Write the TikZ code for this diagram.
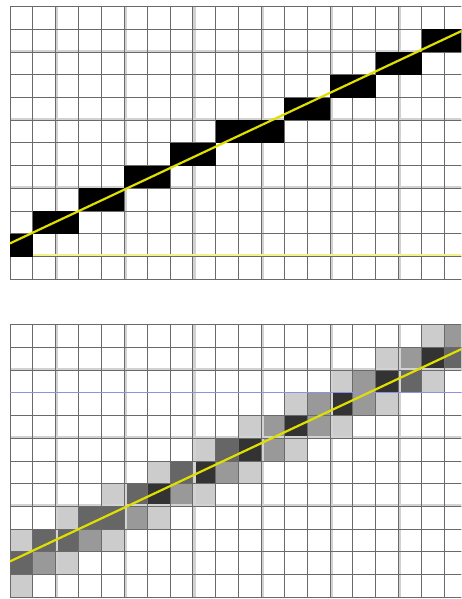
\documentclass[tikz,border=0pt]{standalone}
\definecolor{gridgray}{HTML}{6A6A6A}
\definecolor{bandgray}{HTML}{D2D2D2}
\definecolor{pixlight}{HTML}{CCCCCC}
\definecolor{pixmid}{HTML}{999999}
\definecolor{pixdark}{HTML}{666666}
\definecolor{pixdarker}{HTML}{333333}
\definecolor{lineyellow}{HTML}{E0E000}
\definecolor{paleyellow}{HTML}{F2F288}
\definecolor{paleblue}{HTML}{9090E0}
\begin{document}
\begin{tikzpicture}
[x=11.425pt,y=11.35pt,
 gridline/.style={draw=gridgray,line width=0.5pt},
 bandline/.style={draw=bandgray,line width=1.1pt},
 pixel/.style={fill=#1},
 ideal/.style={draw=lineyellow,line width=1.1pt}]
\useasboundingbox (-0.4376,-0.075) rectangle (19.737,26.295);
\clip (-0.4376,-0.075) rectangle (19.737,26.295);

% top grid: plain line drawing
\begin{scope}[shift={(0,14)}]
\foreach \x in {2,5,...,17} \draw[bandline] (\x+0.07,0) -- (\x+0.07,12);
\foreach \y in {4,7,10} \draw[bandline] (0,\y+0.05) -- (20,\y+0.05);
\foreach \x in {0,...,20} \draw[gridline] (\x,0) -- (\x,12);
\foreach \y in {0,...,12} \draw[gridline] (0,\y) -- (20,\y);
\draw[draw=paleyellow,line width=0.7pt] (1,1.06) -- (20,1.06);
\foreach \x/\y in {0/1,1/2,2/2,3/3,4/3,5/4,6/4,7/5,8/5,9/6,10/6,11/6,
  12/7,13/7,14/8,15/8,16/9,17/9,18/10,19/10}
  \fill[pixel=black] (\x,\y) rectangle ++(1,1);
\coordinate (topA) at (0,1.58);
\coordinate (topB) at (20,11.05);
\draw[ideal] (topA) -- (topB);
\end{scope}

% bottom grid: antialiased line
\begin{scope}
\foreach \x/\y in {0/0,2/1,0/2,4/2,2/3,6/3,4/4,8/4,6/5,10/5,8/6,12/6,
  10/7,14/7,12/8,16/8,14/9,18/9,16/10,18/11}
  \fill[pixel=pixlight] (\x,\y) rectangle ++(1,1);
\foreach \x/\y in {1/1,3/2,5/3,7/4,9/5,11/6,11/7,13/7,13/8,15/8,15/9,17/10,19/11}
  \fill[pixel=pixmid] (\x,\y) rectangle ++(1,1);
\foreach \x/\y in {0/1,1/2,2/2,3/3,4/3,5/4,7/5,9/6,17/9,19/10}
  \fill[pixel=pixdark] (\x,\y) rectangle ++(1,1);
\foreach \x/\y in {6/4,8/5,10/6,12/7,14/8,16/9,18/10}
  \fill[pixel=pixdarker] (\x,\y) rectangle ++(1,1);
\foreach \x in {2,5,...,17} \draw[bandline] (\x+0.07,0) -- (\x+0.07,12);
\foreach \y in {4,7,10} \draw[bandline] (0,\y+0.05) -- (20,\y+0.05);
\foreach \x in {0,...,20} \draw[gridline] (\x,0) -- (\x,12);
\foreach \y in {0,...,12} \draw[gridline] (0,\y) -- (20,\y);
\draw[draw=paleblue,line width=0.6pt] (0,9) -- (20,9);
\coordinate (botA) at (0,1.58);
\coordinate (botB) at (20,11.05);
\draw[ideal] (botA) -- (botB);
\end{scope}
\end{tikzpicture}
\end{document}
